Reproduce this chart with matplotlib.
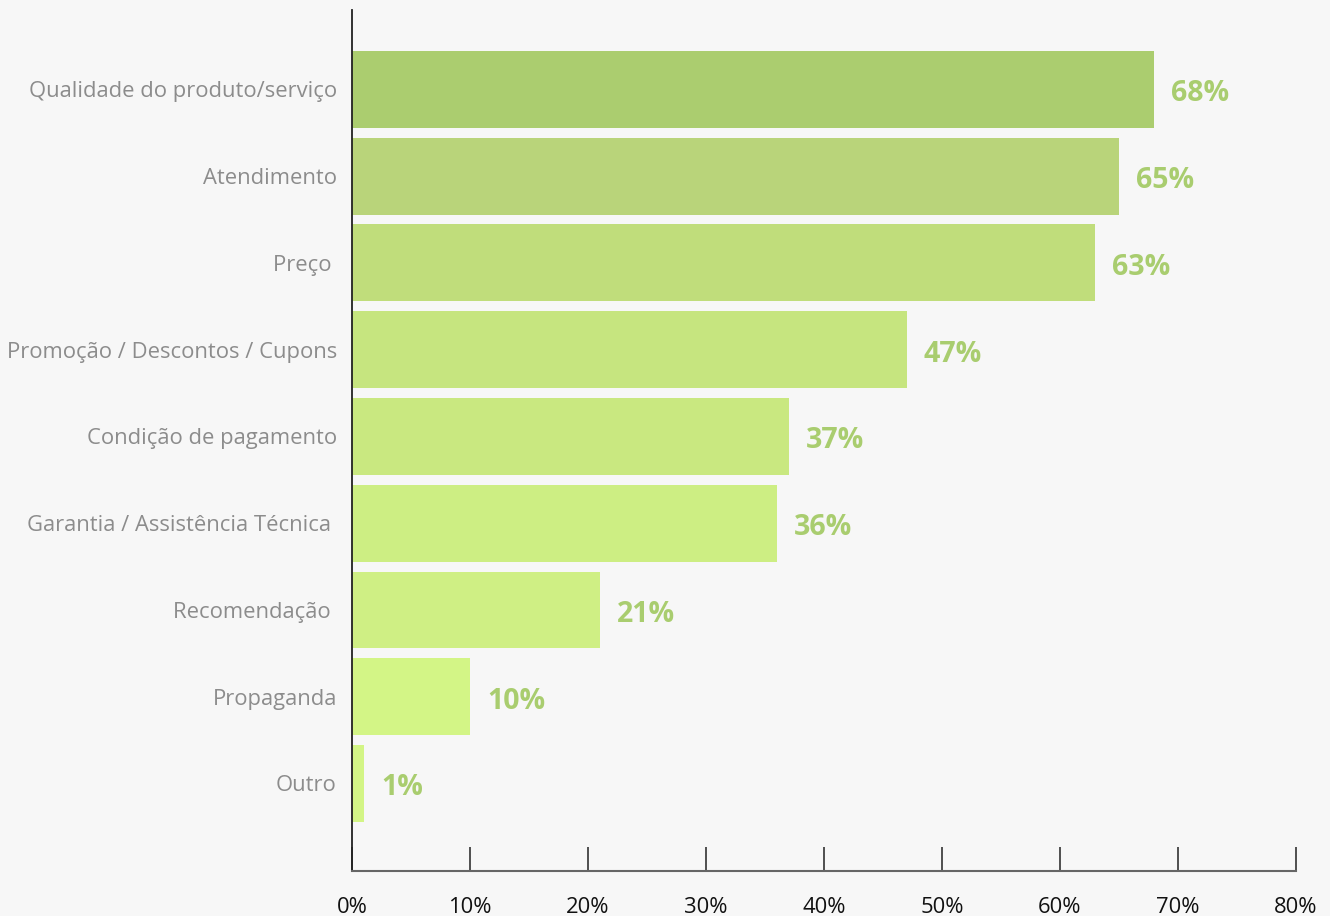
import matplotlib.pyplot as plt
from matplotlib.ticker import FuncFormatter

plt.rcParams['font.family'] = ['Open Sans', 'DejaVu Sans']

# dados
categorias = ['Qualidade do produto/serviço', 'Atendimento', 'Preço ',
              'Promoção / Descontos / Cupons', 'Condição de pagamento',
              'Garantia / Assistência Técnica ', 'Recomendação ', 'Propaganda', 'Outro']
valores = [68, 65, 63, 47, 37, 36, 21, 10, 1]
cores = ['#abcd6f', '#b9d47a', '#c0dd7b', '#c6e57f', '#c9e880',
         '#cdee83', '#cfef84', '#d3f586', '#d3f586']
ticks_x = [0, 10, 20, 30, 40, 50, 60, 70, 80]

bg = '#f7f7f7'
fig = plt.figure(figsize=(13.3, 9.16), dpi=100, facecolor=bg)
ax = fig.add_axes([0.2647, 0.0491, 0.7097, 0.9400])
ax.set_facecolor(bg)

pos = list(range(len(categorias)))
ax.barh(pos, valores, height=0.887, color=cores)

for p, v in zip(pos, valores):
    ax.text(v + 1.45, p + 0.05, f'{v}%', va='center', ha='left',
            fontsize=20.5, fontweight='bold', color='#a9cd6f')

ax.set_ylim(8 + 1.009, -0.916)
ax.set_xlim(0, 80)
ax.set_yticks(pos)
ax.set_yticklabels(categorias, fontsize=15.8, color='#8c8c8c')
ax.tick_params(axis='y', length=0, pad=11)
ax.set_xticks(ticks_x)
ax.xaxis.set_major_formatter(FuncFormatter(lambda x, _: f'{int(x)}%'))
ax.tick_params(axis='x', direction='in', length=17, width=1.2, color='#333333',
               labelsize=15.8, pad=19, labelcolor='#111111')

for s in ['top', 'right']:
    ax.spines[s].set_visible(False)
ax.spines['left'].set_color('#222222')
ax.spines['left'].set_linewidth(1.3)
ax.spines['bottom'].set_color('#666666')
ax.spines['bottom'].set_linewidth(1.5)

plt.savefig('out.png', dpi=100, facecolor=bg)
